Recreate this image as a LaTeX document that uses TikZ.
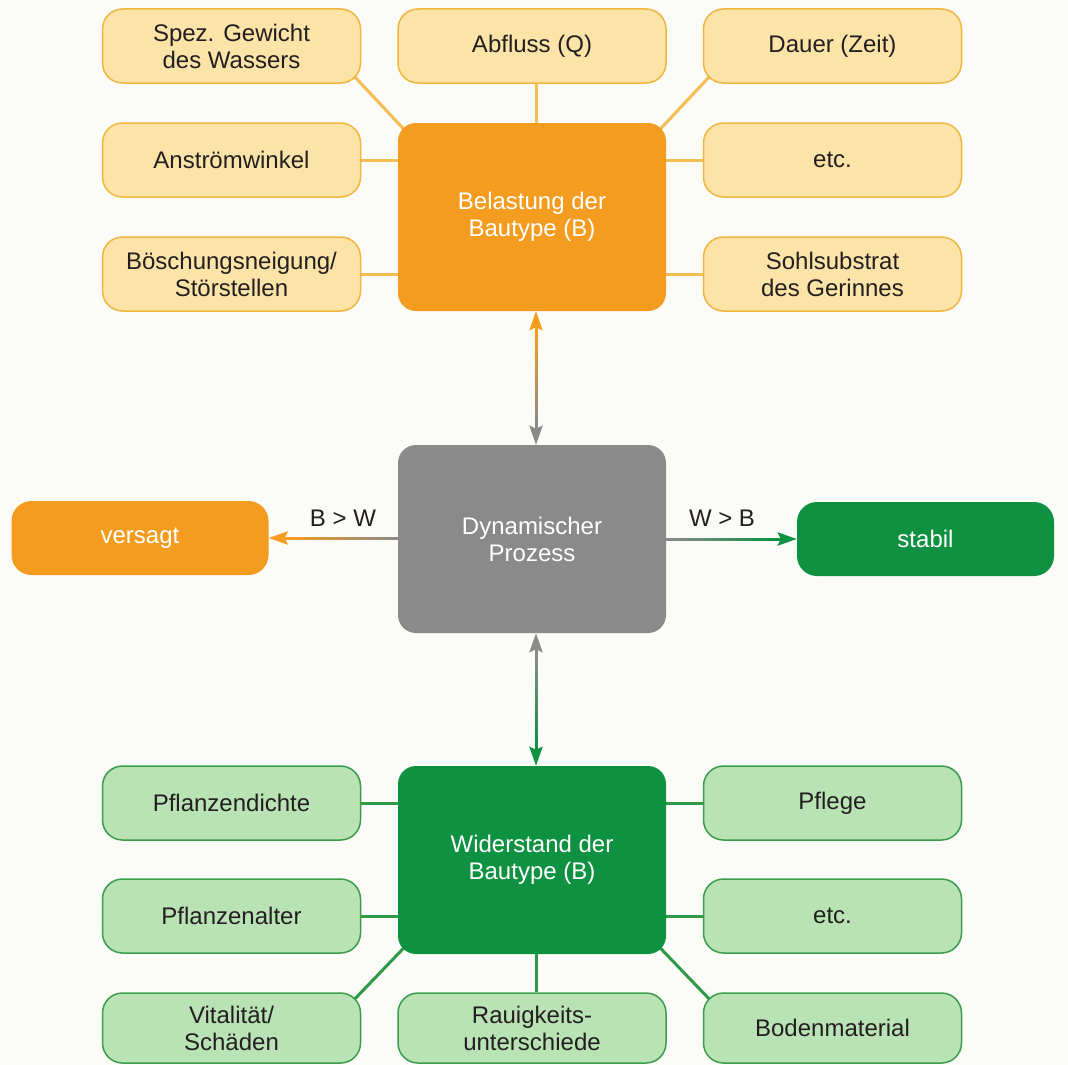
\documentclass[tikz,border=0pt]{standalone}
\usepackage{fontspec}
\setmainfont{Liberation Sans}
\usetikzlibrary{arrows.meta,calc}
\definecolor{cOr}{HTML}{F39C1F}
\definecolor{cOrL}{HTML}{FCE4A8}
\definecolor{cOrB}{HTML}{F0B63E}
\definecolor{cOrLine}{HTML}{F5BE55}
\definecolor{cGy}{HTML}{8A8A8A}
\definecolor{cGn}{HTML}{0E9141}
\definecolor{cGnL}{HTML}{B9E3B4}
\definecolor{cGnB}{HTML}{3C9C4C}
\definecolor{cGnLine}{HTML}{2E9A48}
\definecolor{cBg}{HTML}{FBFBF8}
\definecolor{cTxt}{HTML}{231F20}
\pgfdeclarelayer{back}
\pgfdeclarelayer{bg}
\pgfsetlayers{back,bg,main}
\newcommand\gradseg[4]{%
  \foreach \i in {0,...,19}{%
    \pgfmathsetmacro\pa{\i/20}%
    \pgfmathsetmacro\pb{(\i+1.05)/20}%
    \pgfmathtruncatemacro\pc{100-\i*5}%
    \draw[line width=3pt, draw=#3!\pc!#4] ($(#1)!\pa!(#2)$) -- ($(#1)!\pb!(#2)$);
  }%
}
\begin{document}
\begin{tikzpicture}[x=1pt,y=-1pt,
  base/.style={rounded corners=20pt, align=center, font=\fontsize{24}{27}\selectfont, inner sep=0pt},
  oside/.style={base, fill=cOrL, draw=cOrB, line width=1.5pt, minimum width=258pt, minimum height=74pt, text=cTxt},
  gside/.style={base, fill=cGnL, draw=cGnB, line width=1.5pt, minimum width=258pt, minimum height=74pt, text=cTxt},
  ocenter/.style={base, rounded corners=18pt, fill=cOr, minimum width=268pt, minimum height=188pt, text=white},
  gcenter/.style={base, rounded corners=18pt, fill=cGn, minimum width=268pt, minimum height=188pt, text=white},
  ycenter/.style={base, rounded corners=18pt, fill=cGy, minimum width=268pt, minimum height=188pt, text=white},
  result/.style={base, minimum width=257pt, minimum height=74pt, text=white},
  oline/.style={line width=3pt, draw=cOrLine},
  gline/.style={line width=3pt, draw=cGnLine},
  arr/.style={line width=3pt, -{Stealth[length=19pt,width=13pt,inset=3pt]}},
  lbl/.style={font=\fontsize{24}{27}\selectfont, text=cTxt}
]
\begin{pgfonlayer}{back}
\fill[cBg] (0,0) rectangle (1068,1065);
\end{pgfonlayer}
\useasboundingbox (0,0) rectangle (1068,1065);

% upper group
\node[ocenter] (bel) at (532,217) {Belastung der\\Bautype (B)};
\node[oside] (spez) at (231.5,46) {Spez. Gewicht\\des Wassers};
\node[oside, minimum width=268pt] (abf) at (532,46) {Abfluss (Q)};
\node[oside] (dau) at (832.5,46) {Dauer (Zeit)};
\node[oside] (anst) at (231.5,160) {Anströmwinkel};
\node[oside] (etc1) at (832.5,160) {etc.};
\node[oside] (bosch) at (231.5,274) {Böschungsneigung/\\Störstellen};
\node[oside] (sohl) at (832.5,274) {Sohlsubstrat\\des Gerinnes};

% middle
\node[ycenter] (dyn) at (532,539) {Dynamischer\\Prozess};
\node[result, fill=cOr] (vers) at (140,538) {versagt};
\node[result, fill=cGn] (stab) at (925.5,539) {stabil};

% lower group
\node[gcenter] (wid) at (532,860) {Widerstand der\\Bautype (B)};
\node[gside] (pdi) at (231.5,803) {Pflanzendichte};
\node[gside] (pfl) at (832.5,803) {Pflege};
\node[gside] (pal) at (231.5,916) {Pflanzenalter};
\node[gside] (etc2) at (832.5,916) {etc.};
\node[gside, minimum height=70pt] (vit) at (231.5,1028) {Vitalität/\\Schäden};
\node[gside, minimum height=70pt, minimum width=268pt] (rau) at (532,1028) {Rauigkeits-\\unterschiede};
\node[gside, minimum height=70pt] (bod) at (832.5,1028) {Bodenmaterial};

\begin{pgfonlayer}{bg}
% orange connectors
\draw[oline] ($(spez.south east)!-12pt!(bel.north west)$) -- ($(bel.north west)!-12pt!(spez.south east)$);
\draw[oline] ([xshift=4pt]abf.south) -- ([xshift=4pt]bel.north);
\draw[oline] ($(dau.south west)!-12pt!(bel.north east)$) -- ($(bel.north east)!-12pt!(dau.south west)$);
\draw[oline] (anst.east) -- (anst.east -| bel.west);
\draw[oline] (etc1.west) -- (etc1.west -| bel.east);
\draw[oline] (bosch.east) -- (bosch.east -| bel.west);
\draw[oline] (sohl.west) -- (sohl.west -| bel.east);
% green connectors
\draw[gline] (pdi.east) -- (pdi.east -| wid.west);
\draw[gline] (pfl.west) -- (pfl.west -| wid.east);
\draw[gline] (pal.east) -- (pal.east -| wid.west);
\draw[gline] (etc2.west) -- (etc2.west -| wid.east);
\draw[gline] ($(vit.north east)!-12pt!(wid.south west)$) -- ($(wid.south west)!-12pt!(vit.north east)$);
\draw[gline] ([xshift=4pt]rau.north) -- ([xshift=4pt]wid.south);
\draw[gline] ($(bod.north west)!-12pt!(wid.south east)$) -- ($(wid.south east)!-12pt!(bod.north west)$);
\end{pgfonlayer}

% arrows: Belastung <-> Dynamischer Prozess
\coordinate (a1) at ([xshift=4pt]bel.south);
\coordinate (b1) at ([xshift=4pt]dyn.north);
\coordinate (s1) at ($(a1)!24pt!(b1)$);
\coordinate (e1) at ($(b1)!24pt!(a1)$);
\gradseg{s1}{e1}{cOr}{cGy}
\draw[arr, cOr] (s1) -- (a1);
\draw[arr, cGy] (e1) -- (b1);

% arrows: Dynamischer Prozess <-> Widerstand
\coordinate (a2) at ([xshift=4pt]dyn.south);
\coordinate (b2) at ([xshift=4pt]wid.north);
\coordinate (s2) at ($(a2)!24pt!(b2)$);
\coordinate (e2) at ($(b2)!24pt!(a2)$);
\gradseg{s2}{e2}{cGy}{cGn}
\draw[arr, cGy] (s2) -- (a2);
\draw[arr, cGn] (e2) -- (b2);

% arrow to versagt
\coordinate (a3) at (dyn.west |- vers.east);
\coordinate (e3) at ($(vers.east)!24pt!(a3)$);
\gradseg{a3}{e3}{cGy}{cOr}
\draw[arr, cOr] (e3) -- (vers.east);
\node[lbl] (bw) at (343,518) {B > W};

% arrow to stabil
\coordinate (a4) at (dyn.east |- stab.west);
\coordinate (e4) at ($(stab.west)!24pt!(a4)$);
\gradseg{a4}{e4}{cGy}{cGn}
\draw[arr, cGn] (e4) -- (stab.west);
\node[lbl] (wb) at (722,518) {W > B};
\end{tikzpicture}
\end{document}
